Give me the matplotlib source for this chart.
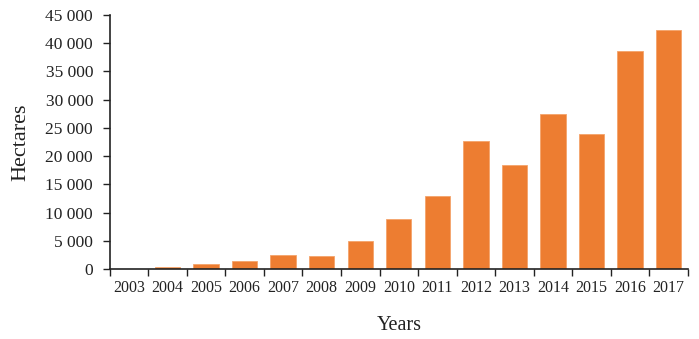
import numpy as np
import matplotlib.pyplot as plt
from matplotlib.ticker import FuncFormatter, FixedLocator

# Data
years = ['2003', '2004', '2005', '2006', '2007', '2008', '2009', '2010',
         '2011', '2012', '2013', '2014', '2015', '2016', '2017']
hectares = [0, 300, 900, 1470, 2480, 2250, 4900, 8860,
            12880, 22620, 18430, 27460, 23970, 38620, 42340]

plt.rcParams['font.family'] = ['Liberation Serif', 'DejaVu Serif']

fig = plt.figure(figsize=(6.99, 3.39), dpi=100)
ax = fig.add_axes([0.157, 0.2065, 0.827, 0.7495])

x = np.arange(len(years))
ax.bar(x, hectares, width=0.66, color='#ED7D31', edgecolor='#F4A36A', linewidth=0.6)

# Axes
ax.set_xlim(-0.5, len(years) - 0.5)
ax.set_ylim(0, 45000)
ax.set_yticks(np.arange(0, 45001, 5000))
ax.yaxis.set_major_formatter(FuncFormatter(lambda v, p: f'{int(v):,}'.replace(',', ' ')))

ax.set_xticks(x)
ax.set_xticklabels(years)
ax.xaxis.set_minor_locator(FixedLocator(np.arange(-0.5, len(years), 1)))
ax.tick_params(axis='x', which='major', length=0, pad=8, labelsize=11.5, colors='#222222')
ax.tick_params(axis='x', which='minor', length=5, width=1, color='#222222')
ax.tick_params(axis='y', length=5, width=1, labelsize=12.5, colors='#222222', pad=7)

for s in ['top', 'right']:
    ax.spines[s].set_visible(False)
for s in ['left', 'bottom']:
    ax.spines[s].set_color('#222222')
    ax.spines[s].set_linewidth(1.2)

ax.set_xlabel('Years', fontsize=14.5, labelpad=14, color='#222222')
ax.set_ylabel('Hectares', fontsize=16, labelpad=11, color='#222222')

fig.savefig('out.png', dpi=100)
